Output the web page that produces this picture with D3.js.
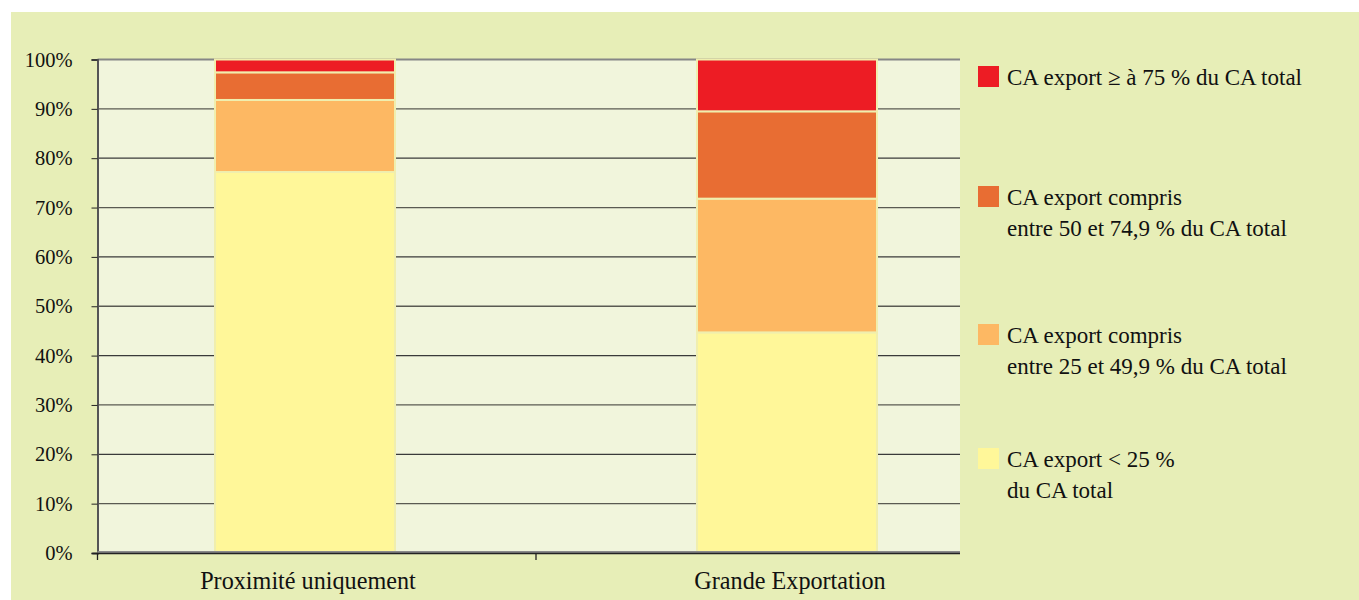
<!DOCTYPE html>
<html>
<head>
<meta charset="utf-8">
<script src="https://cdn.jsdelivr.net/npm/d3@7"></script>
<style>
  body { margin: 0; background: #fff; }
  svg text { font-family: "Liberation Serif", "DejaVu Serif", serif; fill: #111; }
</style>
</head>
<body>
<svg id="chart" width="1359" height="600"></svg>
<script>
// chart data
const categories = ["Proximité uniquement", "Grande Exportation"];
const seriesNames = [
    ["CA export < 25 %", "du CA total"],
    ["CA export compris", "entre 25 et 49,9 % du CA total"],
    ["CA export compris", "entre 50 et 74,9 % du CA total"],
    ["CA export \u2265 à 75 % du CA total"]
];
const under25 = [77.2, 44.7];
const from25to50 = [14.6, 27.1];
const from50to75 = [5.6, 17.7];
const over75 = [2.6, 10.5];
const yTicks = [0, 10, 20, 30, 40, 50, 60, 70, 80, 90, 100];

const colors = ["#fff799", "#fdb863", "#e86d33", "#ed1c24"];
const fontFamily = "Liberation Serif";

const svg = d3.select("#chart");

// outer panel
svg.append("rect").attr("x", 11).attr("y", 12).attr("width", 1348).attr("height", 588).attr("fill", "#e7eeb7");

const plot = {left: 97.5, right: 960, top: 59.5, bottom: 553};

var scale =
{
    x: d3.scalePoint().domain(categories).range([305, 787]),
    y: d3.scaleLinear().domain([0, 100]).range([plot.bottom, plot.top])
};
const barWidth = 180;

// plot background
svg.append("rect")
    .attr("x", plot.left).attr("y", plot.top)
    .attr("width", plot.right - plot.left).attr("height", plot.bottom - plot.top)
    .attr("fill", "#f1f5dc");

// gridlines
svg.append("g").selectAll("line")
    .data(yTicks.filter((t) => t > 0 && t < 100))
    .join("line")
    .attr("x1", plot.left).attr("x2", plot.right)
    .attr("y1", (d) => scale.y(d)).attr("y2", (d) => scale.y(d))
    .attr("stroke", (d, i) => i % 2 ? "#3a3a3a" : "#5a5a52")
    .attr("stroke-width", 1.3);

// top border of plot
svg.append("line")
    .attr("x1", plot.left).attr("x2", plot.right)
    .attr("y1", scale.y(100)).attr("y2", scale.y(100))
    .attr("stroke", "#868686").attr("stroke-width", 2);

// stacked bars
const table = categories.map((c, i) => ({
    cat: c, s0: under25[i], s1: from25to50[i], s2: from50to75[i], s3: over75[i]
}));
const stack = d3.stack().keys(["s0", "s1", "s2", "s3"])(table);

svg.append("g").selectAll("g")
    .data(stack)
    .join("g")
    .attr("fill", (d, i) => colors[i])
    .selectAll("rect")
    .data((d) => d)
    .join("rect")
    .attr("x", (d) => scale.x(d.data.cat) - barWidth / 2)
    .attr("width", barWidth)
    .attr("y", (d) => scale.y(d[1]))
    .attr("height", (d) => scale.y(d[0]) - scale.y(d[1]))
    .attr("stroke", "#f0eeae")
    .attr("stroke-width", 2);

// y axis
const yAxis = d3.axisLeft(scale.y).tickValues(yTicks).tickFormat((d) => d + "%").tickSize(6).tickPadding(19);
const gy = svg.append("g").attr("transform", `translate(${plot.left},0)`).call(yAxis);
gy.select(".domain").attr("stroke", "#555").attr("stroke-width", 2);
gy.selectAll(".tick line").attr("stroke", "#222");
gy.selectAll(".tick text").attr("font-size", 20.5).attr("font-family", fontFamily).attr("fill", "#111");

// x axis baseline
svg.append("line")
    .attr("x1", plot.left).attr("x2", plot.right)
    .attr("y1", plot.bottom - 1).attr("y2", plot.bottom - 1)
    .attr("stroke", "#8a8a8a").attr("stroke-width", 2);
svg.append("line")
    .attr("x1", plot.left - 5).attr("x2", plot.right)
    .attr("y1", plot.bottom + 0.5).attr("y2", plot.bottom + 0.5)
    .attr("stroke", "#222").attr("stroke-width", 1.3);

// category separators ticks
const sepX = [plot.left, (scale.x(categories[0]) + scale.x(categories[1])) / 2 - 10];
svg.append("g").selectAll("line")
    .data(sepX)
    .join("line")
    .attr("x1", (d) => d).attr("x2", (d) => d)
    .attr("y1", plot.bottom).attr("y2", plot.bottom + 7)
    .attr("stroke", "#222").attr("stroke-width", 1.3);

// category labels
svg.append("g").selectAll("text")
    .data(categories)
    .join("text")
    .attr("x", (d) => scale.x(d) + 3)
    .attr("y", 589)
    .attr("text-anchor", "middle")
    .attr("font-size", 24.2)
    .text((d) => d);

// legend (top item = highest series)
const legendY = [87, 207, 345, 469];
const legend = svg.append("g").selectAll("g")
    .data(seriesNames.map((n, i) => ({lines: n, color: colors[i], y: legendY[3 - i]})))
    .join("g");

legend.append("rect")
    .attr("x", 978).attr("y", (d) => d.y - 21)
    .attr("width", 21).attr("height", 21)
    .attr("fill", (d) => d.color);

legend.append("text")
    .attr("x", 1007).attr("y", (d) => d.y - 2)
    .attr("font-size", 23)
    .selectAll("tspan")
    .data((d) => d.lines)
    .join("tspan")
    .attr("x", 1007)
    .attr("dy", (d, i) => i ? 31 : 0)
    .text((d) => d);
</script>
</body>
</html>
